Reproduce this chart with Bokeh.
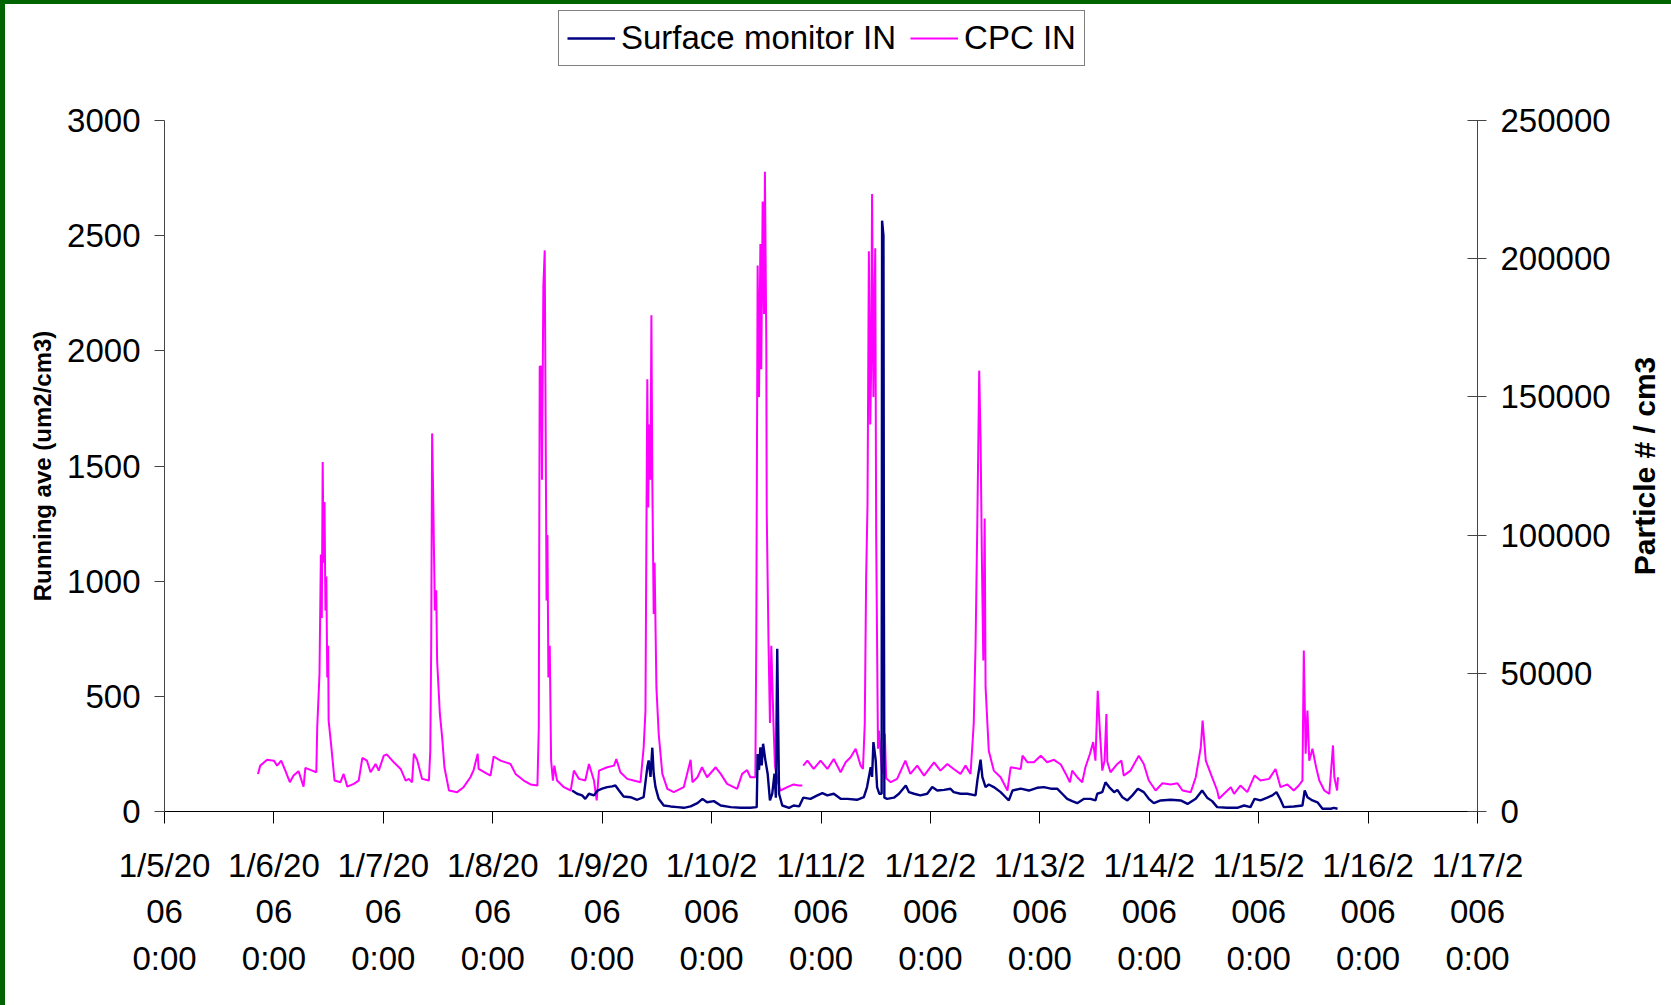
import math
from bokeh.plotting import figure
from bokeh.layouts import column, row
from bokeh.models import (Range1d, LinearAxis, FixedTicker, Legend, LegendItem,
                          ColumnDataSource, BasicTickFormatter)
from bokeh.embed import file_html
from bokeh.resources import INLINE

# ---------------- data (hours since 1/5/2006 0:00) ----------------
DAY_TICKS = [0, 24, 48, 72, 96, 120, 144, 168, 192, 216, 240, 264, 288]
DAY_LABELS = ["1/5/20\n06\n0:00", "1/6/20\n06\n0:00", "1/7/20\n06\n0:00",
              "1/8/20\n06\n0:00", "1/9/20\n06\n0:00", "1/10/2\n006\n0:00",
              "1/11/2\n006\n0:00", "1/12/2\n006\n0:00", "1/13/2\n006\n0:00",
              "1/14/2\n006\n0:00", "1/15/2\n006\n0:00", "1/16/2\n006\n0:00",
              "1/17/2\n006\n0:00"]
LEFT_TICKS = [0, 500, 1000, 1500, 2000, 2500, 3000]
RIGHT_TICKS = [0, 50000, 100000, 150000, 200000, 250000]

cpc_hours = [
    20.5, 21.0, 22.5, 24.0, 24.7, 25.6, 26.5, 27.5, 28.3, 29.4, 30.5, 30.9, 32.4, 33.3,
    33.5, 34.0, 34.3, 34.5, 34.7, 34.9, 35.1, 35.3, 35.5, 35.7, 35.9, 36.0, 36.6, 37.3,
    38.6, 39.3, 40.1, 41.5, 42.6, 43.4, 44.4, 45.2, 46.3, 47.0, 48.1, 48.8, 50.3, 51.8,
    52.9, 53.6, 54.3, 54.7, 55.4, 56.5, 58.0, 58.3, 58.5, 58.7, 58.9, 59.1, 59.3, 59.6,
    59.8, 60.4, 60.9, 61.4, 62.4, 64.2, 65.6, 67.1, 67.8, 68.7, 68.9, 70.8, 71.5, 72.2,
    73.7, 75.9, 77.0, 78.8, 80.3, 81.8, 82.1, 82.3, 82.6, 82.8, 83.1, 83.4, 83.6, 83.8,
    84.0, 84.2, 84.5, 84.8, 85.2, 85.5, 86.1, 87.6, 89.1, 89.8, 90.9, 92.3, 93.1, 94.2,
    94.8, 95.3, 97.1, 98.6, 99.1, 100.0, 101.5, 102.9, 104.4, 105.1, 105.5, 105.7, 105.9,
    106.1, 106.3, 106.6, 106.8, 107.0, 107.3, 107.5, 107.9, 108.4, 109.2, 110.3, 111.7,
    113.9, 115.4, 115.8, 116.9, 117.9, 119.0, 120.9, 122.0, 123.4, 125.6, 126.7, 127.8,
    128.5, 129.6, 129.8, 130.1, 130.4, 130.7, 130.9, 131.2, 131.5, 131.7, 132.0, 132.1,
    132.5, 132.8, 133.1, 133.6, 133.9, 134.6, 135.1, 136.6, 138.0, 139.1, 139.9, 140.0,
    140.1, 141.0, 142.4, 143.9, 145.4, 146.8, 148.3, 149.4, 150.5, 151.6, 152.7, 153.2,
    153.6, 153.9, 154.2, 154.5, 154.8, 155.0, 155.2, 155.5, 155.7, 155.9, 156.1, 156.3,
    156.5, 156.7, 157.4, 158.0, 158.3, 159.3, 160.7, 162.5, 163.6, 165.1, 166.6, 168.8,
    170.2, 171.7, 173.1, 174.6, 175.7, 176.8, 177.5, 177.9, 178.3, 178.7, 179.0, 179.3,
    179.6, 179.9, 180.1, 180.8, 181.9, 183.4, 184.9, 185.6, 187.8, 188.2, 189.3, 190.7,
    192.2, 193.6, 195.1, 196.6, 197.7, 198.6, 199.1, 200.2, 201.3, 202.0, 203.0, 203.7,
    204.2, 204.7, 205.2, 205.7, 206.2, 206.6, 206.8, 207.5, 209.0, 209.9, 210.4, 211.9,
    213.7, 214.8, 215.9, 217.4, 218.9, 220.7, 222.2, 223.3, 225.1, 226.2, 227.3, 227.7,
    228.4, 229.5, 230.9, 231.3, 232.4, 233.9, 234.6, 236.0, 237.5, 239.1, 240.4, 242.3,
    243.7, 244.8, 246.3, 247.7, 248.8, 249.6, 249.9, 250.3, 250.7, 251.1, 251.8, 252.6,
    253.3, 254.4, 255.5, 256.3, 256.6, 257.2, 257.4]
cpc_values = [
    13600, 16600, 18700, 18400, 16600, 18400, 14800, 10600, 13000, 14600, 9000, 15800, 14800, 14200,
    30500, 49900, 93000, 70000, 126400, 90000, 112000, 72700, 85000, 48500, 60000, 32900, 23300, 11200,
    10600, 13600, 9000, 10000, 11200, 19400, 18400, 14200, 17200, 14800, 20200, 20600, 17800, 15400,
    11200, 11800, 10600, 20900, 18700, 11800, 11200, 22000, 60000, 136800, 118000, 95000, 72700, 80000,
    54600, 35300, 26900, 16000, 7600, 7000, 8800, 12400, 15000, 20900, 15400, 13600, 13000, 19900,
    18400, 17200, 13600, 11200, 9800, 9400, 30500, 161000, 161000, 120000, 190000, 203000, 140000, 76300,
    100000, 48500, 60000, 18400, 11200, 16600, 11200, 8800, 7600, 14800, 11800, 11200, 17200, 11200,
    4000, 14800, 16000, 16600, 19000, 14200, 11800, 11200, 10600, 23200, 36500, 100000, 156400,
    110000, 140000, 120000, 179500, 120000, 71500, 90000, 44900, 28100, 13600, 8200, 7000,
    8800, 18700, 10600, 12400, 16000, 12400, 16000, 13600, 10000, 8200, 13600, 15000,
    12400, 12400, 61400, 197500, 150000, 205300, 160000, 220700, 180000, 231500, 169700, 107800,
    59800, 32000, 60000, 30400, 16500, 10300, 7600, 8800, 9800, 9400, 9400, float("nan"),
    16600, 18400, 15400, 18400, 15400, 19000, 14200, 17800, 19600, 22700, 16600, 15400,
    31700, 84600, 110900, 202700, 140000, 160000, 223400, 150000, 180000, 203800, 100100, 61400,
    22700, 29300, 13600, 28100, 12000, 10600, 11800, 18400, 13600, 16600, 13000, 17800,
    14800, 17200, 15400, 13600, 16600, 13600, 31700, 60000, 106000, 159500, 135000, 90000,
    54600, 106000, 44900, 22000, 14800, 12400, 7600, 16000, 15400, 20200, 17800, 17800,
    20200, 17800, 18700, 17000, 13600, 10600, 14800, 12400, 10600, 16000, 20900, 25100,
    18400, 43700, 28100, 14800, 18400, 35300, 18000, 14200, 17200, 18400, 13000, 14800,
    20200, 17200, 11200, 7600, 10200, 9800, 10200, 7600, 7000, 12400, 23200, 32900,
    18400, 13600, 7600, 4600, 6400, 8800, 6400, 9400, 7000, 13000, 11200, 11800,
    15400, 8800, 9800, 7600, 9400, 11200, 58200, 20900, 36500, 18400, 22700, 16000,
    11200, 7600, 6400, 23900, 12400, 7600, 12400]

surf_hours = [
    89.4, 90.5, 91.6, 92.3, 93.1, 94.2, 95.0, 96.0, 97.1, 98.2, 98.9, 99.7, 100.7, 102.2,
    103.7, 105.1, 105.9, 106.2, 106.6, 107.0, 107.3, 107.7, 108.4, 109.5, 111.0, 112.5,
    113.9, 115.4, 116.9, 118.0, 119.0, 120.5, 122.0, 124.2, 126.4, 128.5, 129.9, 130.1,
    130.4, 130.7, 131.0, 131.3, 131.8, 132.3, 132.8, 133.3, 133.8, 134.1, 134.4, 134.8,
    135.5, 137.0, 138.0, 139.2, 140.1, 141.7, 143.2, 144.3, 145.4, 146.8, 148.3, 149.8,
    151.9, 153.4, 154.1, 154.9, 155.2, 155.5, 156.0, 156.3, 156.8, 157.3, 157.4, 157.7,
    157.8, 157.9, 158.5, 160.0, 161.1, 162.6, 163.3, 164.4, 165.8, 167.3, 168.4, 169.5,
    171.0, 172.4, 173.1, 174.6, 176.1, 177.9, 178.3, 179.0, 179.4, 180.1, 180.8, 181.9,
    183.4, 184.5, 185.2, 186.0, 187.8, 189.6, 191.4, 192.9, 194.4, 195.8, 196.9, 198.0,
    199.1, 200.2, 201.7, 203.1, 204.2, 204.6, 205.7, 206.4, 207.2, 208.3, 209.0, 210.1,
    211.2, 212.3, 213.5, 214.8, 215.9, 217.0, 218.5, 220.7, 222.9, 224.4, 226.2, 227.6,
    228.7, 229.8, 230.9, 233.1, 235.3, 236.8, 238.2, 239.1, 240.4, 241.9, 243.0, 243.9,
    244.8, 245.5, 247.7, 249.6, 250.1, 250.7, 251.8, 252.9, 254.0, 255.8, 256.5, 257.3]
surf_values = [
    91, 77, 70, 55, 77, 70, 91, 99, 106, 109, 113, 91, 65, 62,
    51, 62, 192, 222, 150, 277, 164, 106, 55, 26, 22, 19,
    16, 22, 36, 55, 40, 45, 26, 19, 16, 16, 19, 250,
    180, 279, 200, 294, 222, 164, 48, 77, 164, 60, 707, 77,
    26, 16, 26, 22, 60, 55, 70, 80, 70, 77, 55, 55,
    51, 62, 106, 192, 150, 301, 222, 106, 77, 77, 2565, 2500,
    900, 60, 55, 60, 77, 113, 84, 77, 70, 77, 106, 91,
    94, 99, 84, 77, 77, 70, 135, 225, 149, 106, 117, 106,
    84, 62, 48, 91, 99, 91, 103, 106, 99, 99, 77, 55,
    45, 36, 55, 55, 48, 77, 84, 127, 106, 84, 94, 62,
    48, 70, 99, 84, 55, 36, 48, 51, 48, 33, 55, 91,
    60, 45, 19, 16, 16, 26, 19, 55, 48, 60, 70, 84,
    51, 19, 22, 26, 91, 62, 48, 40, 12, 12, 16, 12]

SURF_COLOR = "#000080"
CPC_COLOR = "#FF00FF"
TICK_FONT = "Liberation Sans"
FS = "33px"
W = 1666
TOP_H = 62
MAIN_H = 1001 - TOP_H
RIGHT_W = 58
MAIN_W = W - RIGHT_W
NAN = float("nan")

# ---------------- legend strip ----------------
pt = figure(width=W, height=TOP_H, output_backend="svg", toolbar_location=None,
            x_range=Range1d(0, 1), y_range=Range1d(0, 1),
            x_axis_type=None, y_axis_type=None,
            min_border_left=159, min_border_right=194, min_border_top=0, min_border_bottom=0)
pt.outline_line_color = None
pt.xgrid.visible = False
pt.ygrid.visible = False
lg_surf = pt.line([NAN], [NAN], color=SURF_COLOR, line_width=2.4)
lg_cpc = pt.line([NAN], [NAN], color=CPC_COLOR, line_width=2)
legend = Legend(items=[LegendItem(label="Surface monitor IN", renderers=[lg_surf]),
                       LegendItem(label="CPC IN", renderers=[lg_cpc])],
                orientation="horizontal", location=(394, 0),
                label_text_font=TICK_FONT, label_text_font_size=FS,
                label_text_color="black",
                glyph_width=48, glyph_height=20, label_standoff=6, spacing=14,
                padding=8, margin=0,
                border_line_color="black", border_line_width=1,
                background_fill_color="white", background_fill_alpha=1.0)
pt.add_layout(legend, "center")

# ---------------- main chart ----------------
p = figure(width=MAIN_W, height=MAIN_H, output_backend="svg", toolbar_location=None,
           x_range=Range1d(0, 288), y_range=Range1d(0, 3000),
           min_border_left=159, min_border_right=MAIN_W - 1472,
           min_border_top=116 - TOP_H, min_border_bottom=194)
p.extra_y_ranges = {"right": Range1d(0, 250000)}
p.outline_line_color = None
p.xgrid.visible = False
p.ygrid.visible = False
p.background_fill_color = "white"
p.border_fill_color = "white"

surf_src = ColumnDataSource(dict(t=surf_hours, v=surf_values))
cpc_src = ColumnDataSource(dict(t=cpc_hours, v=cpc_values))

r_cpc = p.line("t", "v", source=cpc_src, color=CPC_COLOR, line_width=2,
               y_range_name="right")
r_surf = p.line("t", "v", source=surf_src, color=SURF_COLOR, line_width=2.4)

# x axis
xa = p.xaxis[0]
xa.ticker = FixedTicker(ticks=DAY_TICKS)
xa.major_label_overrides = {t: lab for t, lab in zip(DAY_TICKS, DAY_LABELS)}
xa.minor_tick_line_color = None
xa.major_tick_in = 0
xa.major_tick_out = 12
xa.major_label_standoff = 23
xa.major_label_text_font = TICK_FONT
xa.major_label_text_font_size = FS
xa.major_label_text_line_height = 1.27
xa.major_label_text_color = "black"
xa.axis_line_color = "black"
xa.major_tick_line_color = "black"

# left axis
ya = p.yaxis[0]
ya.ticker = FixedTicker(ticks=LEFT_TICKS)
ya.minor_tick_line_color = None
ya.major_tick_in = 0
ya.major_tick_out = 10
ya.major_label_standoff = 14
ya.major_label_text_font = TICK_FONT
ya.major_label_text_font_size = FS
ya.major_label_text_color = "black"
ya.axis_line_color = "#444444"
ya.major_tick_line_color = "#444444"
ya.axis_label = "Running ave (um2/cm3)"
ya.axis_label_text_font = "Liberation Sans"
ya.axis_label_text_font_style = "bold"
ya.axis_label_text_font_size = "24px"
ya.axis_label_standoff = 8
ya.axis_label_text_color = "black"

# right axis (ticks + numbers)
ra = LinearAxis(y_range_name="right", ticker=FixedTicker(ticks=RIGHT_TICKS),
                formatter=BasicTickFormatter(use_scientific=False))
ra.minor_tick_line_color = None
ra.major_tick_in = 10
ra.major_tick_out = 9
ra.major_label_standoff = 14
ra.major_label_text_font = TICK_FONT
ra.major_label_text_font_size = FS
ra.major_label_text_color = "black"
ra.axis_line_color = "#444444"
ra.major_tick_line_color = "#444444"
p.add_layout(ra, "right")

# ---------------- right title strip (reads bottom to top) ----------------
pr = figure(width=RIGHT_W, height=MAIN_H, output_backend="svg", toolbar_location=None,
            x_range=Range1d(0, 1), y_range=Range1d(0, 250000),
            x_axis_type=None,
            min_border_left=47, min_border_right=0,
            min_border_top=116 - TOP_H, min_border_bottom=194)
pr.outline_line_color = None
pr.xgrid.visible = False
pr.ygrid.visible = False
ry = pr.yaxis[0]
ry.ticker = FixedTicker(ticks=[])
ry.minor_tick_line_color = None
ry.major_tick_line_color = None
ry.major_tick_out = 0
ry.major_tick_in = 0
ry.major_label_standoff = 0
ry.axis_line_color = None
ry.axis_label = "Particle # / cm3"
ry.axis_label_text_font = "Liberation Sans"
ry.axis_label_text_font_style = "bold"
ry.axis_label_text_font_size = "30px"
ry.axis_label_standoff = 0
ry.axis_label_text_color = "black"

layout = column(pt, row(p, pr, spacing=0), spacing=0)
layout.styles = {"border-left": "5px solid #006400", "border-top": "4px solid #006400"}

open("out.html", "w").write(file_html(layout, INLINE))
